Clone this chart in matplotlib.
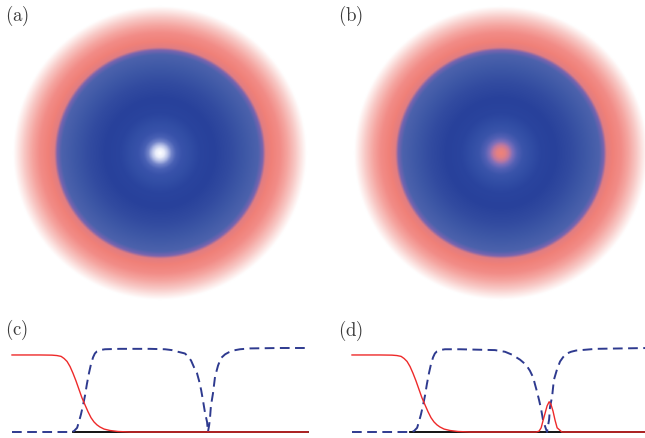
import matplotlib

matplotlib.use("Agg")
import matplotlib.pyplot as plt
import numpy as np

plt.rcParams["mathtext.fontset"] = "cm"

# radial colour profile of the disks (r normalised to the disk radius)
disk_r = [0.0, 0.03, 0.055, 0.08, 0.11, 0.15, 0.20, 0.27, 0.37, 0.48, 0.58,
          0.67, 0.70, 0.72, 0.76, 0.82, 0.87, 0.925, 0.965, 1.0]
disk_a_rgb = [(255, 255, 255), (232, 236, 250), (180, 190, 230), (112, 130, 200),
              (72, 96, 180), (56, 82, 170), (50, 78, 165), (42, 68, 158),
              (40, 65, 155), (50, 75, 160), (62, 88, 166), (76, 98, 172),
              (120, 100, 175), (225, 125, 130), (240, 128, 120), (242, 140, 135),
              (245, 165, 160), (248, 200, 197), (252, 230, 228), (255, 255, 255)]
disk_b_rgb = [(240, 130, 120), (225, 128, 132), (190, 120, 160), (125, 110, 185),
              (82, 96, 180), (58, 84, 170)] + disk_a_rgb[6:]

# line profiles, x as fraction of panel width, y relative to blue plateau
red_c_x = [0.0, 0.095, 0.135, 0.152, 0.166, 0.176, 0.186, 0.196, 0.206, 0.216,
           0.226, 0.236, 0.247, 0.257, 0.267, 0.277, 0.287, 0.297, 0.311, 0.331,
           0.358, 0.399, 1.0]
red_c_y = [0.917, 0.917, 0.915, 0.91, 0.90, 0.875, 0.84, 0.78, 0.70, 0.61,
           0.51, 0.41, 0.32, 0.24, 0.17, 0.12, 0.085, 0.06, 0.035, 0.018,
           0.006, 0.0, 0.0]

blue_c_x = [0.0, 0.196, 0.209, 0.220, 0.226, 0.233, 0.240, 0.247, 0.253, 0.260,
            0.267, 0.274, 0.280, 0.287, 0.297, 0.314, 0.365, 0.466, 0.517, 0.540,
            0.561, 0.584, 0.595, 0.605, 0.615, 0.625, 0.632, 0.639, 0.645, 0.652,
            0.659, 0.662, 0.666, 0.669, 0.672, 0.679, 0.686, 0.696, 0.706, 0.720,
            0.733, 0.747, 0.770, 0.804, 0.905, 1.0]
blue_c_y = [0.0, 0.0, 0.01, 0.05, 0.12, 0.21, 0.32, 0.44, 0.57, 0.70,
            0.81, 0.89, 0.935, 0.96, 0.975, 0.985, 0.99, 0.99, 0.985, 0.975,
            0.955, 0.935, 0.90, 0.85, 0.77, 0.70, 0.61, 0.50, 0.38, 0.23,
            0.12, 0.0, 0.08, 0.17, 0.31, 0.46, 0.66, 0.79, 0.88, 0.925,
            0.95, 0.97, 0.985, 0.995, 1.0, 1.0]

red_d_x = red_c_x[:-2] + [0.399, 0.622, 0.632, 0.639, 0.645, 0.652, 0.659, 0.666,
                          0.672, 0.679, 0.686, 0.693, 0.709, 1.0]
red_d_y = red_c_y[:-2] + [0.0, 0.0, 0.01, 0.05, 0.13, 0.22, 0.31, 0.36,
                          0.33, 0.25, 0.14, 0.05, 0.0, 0.0]

blue_d_x = blue_c_x[:16] + [0.365, 0.483, 0.517, 0.541, 0.568, 0.588, 0.601, 0.612,
                            0.618, 0.625, 0.632, 0.639, 0.645, 0.652, 0.659, 0.662,
                            0.666, 0.669, 0.676, 0.682, 0.693, 0.703, 0.713, 0.723,
                            0.740, 0.757, 0.824, 1.0]
blue_d_y = blue_c_y[:16] + [0.99, 0.99, 0.985, 0.975, 0.955, 0.92, 0.86, 0.80,
                            0.73, 0.65, 0.57, 0.48, 0.38, 0.27, 0.15, 0.07,
                            0.0, 0.07, 0.15, 0.30, 0.42, 0.62, 0.75, 0.84,
                            0.89, 0.93, 0.955, 0.97, 0.99, 1.0][2:]

black_start = [0.206, 0.196]
labels = ["(a)", "(b)", "(c)", "(d)"]

W, H = 645, 438
fig = plt.figure(figsize=(W / 100, H / 100), dpi=100)


def px_axes(x0, y0, w, h):
    return fig.add_axes([x0 / W, 1 - (y0 + h) / H, w / W, h / H])


def disk_image(rgb, n=500, rad=147.0, half=150.0):
    t = np.linspace(-half, half, n)
    xx, yy = np.meshgrid(t, t)
    r = np.hypot(xx, yy) / rad
    rgb = np.asarray(rgb, float) / 255.0
    img = np.stack([np.interp(r, disk_r, rgb[:, k]) for k in range(3)], axis=-1)
    return img


for cx, rgb in [(160, disk_a_rgb), (501, disk_b_rgb)]:
    ax = px_axes(cx - 150, 153 - 150, 300, 300)
    ax.imshow(disk_image(rgb), extent=[-150, 150, -150, 150], interpolation="bilinear")
    ax.set_axis_off()

red = "#ee2a2a"
blue = "#2e3a8f"
for x0, (rx, ry, bx, by, bs) in [(12, (red_c_x, red_c_y, blue_c_x, blue_c_y, black_start[0])),
                                 (352, (red_d_x, red_d_y, blue_d_x, blue_d_y, black_start[1]))]:
    ax = px_axes(x0, 348, 296, 84)
    ax.set_xlim(0, 1)
    ax.set_ylim(0, 1)
    ax.plot([bs, 1.0], [0, 0], color="black", lw=1.3, clip_on=False)
    ax.plot(bx, by, color=blue, lw=1.4, ls=(0, (5, 2.8)), clip_on=False)
    ax.plot(rx, ry, color=red, lw=1.0, clip_on=False)
    ax.set_axis_off()

for (lx, ly), lab in zip([(5, 16), (338, 16), (5, 330), (338, 331)], labels):
    fig.text(lx / W, 1 - ly / H, r"$\mathrm{%s}$" % lab, fontsize=13.5,
             color="#3a3a3a", ha="left", va="center")

fig.savefig("out.png", dpi=100)
